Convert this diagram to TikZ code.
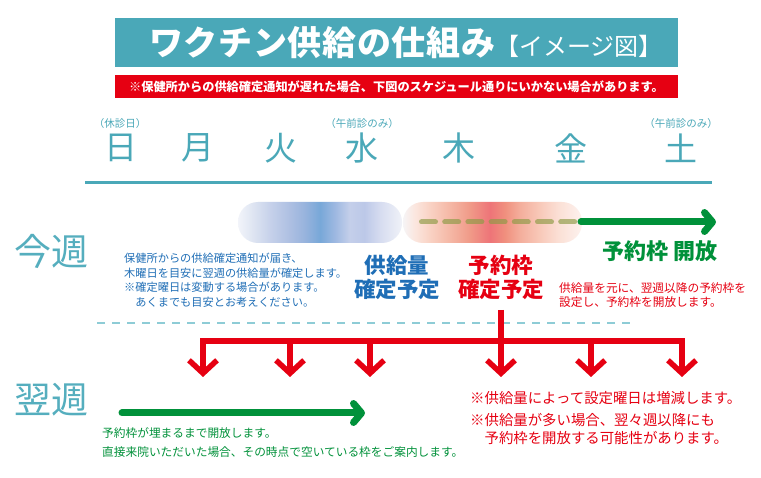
\documentclass[tikz,border=0pt]{standalone}
\usepackage{fontspec}
\setmainfont{Noto Sans CJK JP}
\usetikzlibrary{arrows.meta}
\definecolor{teal1}{HTML}{4AA8B8}
\definecolor{teal2}{HTML}{55AEBE}
\definecolor{lteal}{HTML}{8ECCD6}
\definecolor{jred}{HTML}{E60012}
\definecolor{jblue}{HTML}{1F6EB6}
\definecolor{jgreen}{HTML}{00913A}
\definecolor{olive}{HTML}{8C9A44}
% blue band colours
\definecolor{b0}{HTML}{F2F4FA}\definecolor{b1}{HTML}{DCE3F1}\definecolor{b2}{HTML}{C6D1EA}
\definecolor{b3}{HTML}{ADBFE2}\definecolor{b4}{HTML}{97B3DD}\definecolor{b5}{HTML}{78A8D8}
\definecolor{b6}{HTML}{9DB8E1}\definecolor{b7}{HTML}{C4CFEA}\definecolor{b8}{HTML}{BCC8E8}
\definecolor{b9}{HTML}{D6DCF0}\definecolor{b10}{HTML}{F0F2F8}
% red band colours
\definecolor{r0}{HTML}{F6F4F6}\definecolor{r1}{HTML}{FBE6DE}\definecolor{r2}{HTML}{F9D2C4}
\definecolor{r3}{HTML}{F5B8A6}\definecolor{r4}{HTML}{F09A88}\definecolor{r5}{HTML}{EE7478}
\definecolor{r6}{HTML}{F0907E}\definecolor{r7}{HTML}{F4AE9C}\definecolor{r8}{HTML}{F8C8B8}
\definecolor{r9}{HTML}{FBE0D6}\definecolor{r10}{HTML}{FDF2EE}
\pgfdeclarehorizontalshading{blueband}{100bp}{color(0bp)=(b0); color(25bp)=(b0); color(30bp)=(b1); color(34.8bp)=(b2); color(40.9bp)=(b3); color(45.5bp)=(b4); color(50bp)=(b5); color(54.5bp)=(b6); color(59bp)=(b7); color(63.5bp)=(b8); color(68.3bp)=(b9); color(75bp)=(b10); color(100bp)=(b10)}
\pgfdeclarehorizontalshading{redband}{100bp}{color(0bp)=(r0); color(25bp)=(r0); color(28.4bp)=(r1); color(32.5bp)=(r2); color(38bp)=(r3); color(43.7bp)=(r4); color(49.3bp)=(r5); color(53.5bp)=(r6); color(57.7bp)=(r7); color(63bp)=(r8); color(68.5bp)=(r9); color(75bp)=(r10); color(100bp)=(r10)}
\tikzset{
  dayname/.style={text=teal1, font=\fontsize{33}{33}\selectfont, inner sep=0pt},
  daynote/.style={text=teal1, font=\fontsize{10.5}{10.5}\selectfont, inner sep=0pt},
  weekname/.style={text=teal2, font=\fontsize{37}{37}\selectfont, inner sep=0pt},
  redline/.style={draw=jred, line width=5.5pt},
  redarrow/.style={redline, -{Straight Barb[length=13pt,width=28pt]}},
  greenarrow/.style={draw=jgreen, line width=7pt, line cap=round, -{Straight Barb[length=8pt,width=19pt,round]}},
  smalltext/.style={inner sep=0pt, align=left, anchor=west},
}
\begin{document}
\begin{tikzpicture}[x=1pt,y=-1pt]
\useasboundingbox (0,0) rectangle (761,478);
\fill[white] (0,0) rectangle (761,478);
% title
\node[fill=teal1, minimum width=563pt, minimum height=49pt, inner sep=0pt] (titlebox) at (396.5,42.5) {};
\node[anchor=west, inner sep=0pt, text=white] (titletext) at (149,42.5)
  {\fontsize{34}{34}\selectfont\bfseries\addfontfeature{LetterSpace=2}ワクチン供給の仕組み\fontsize{24}{24}\selectfont\mdseries\addfontfeature{LetterSpace=0}【イメージ図】};
\node[fill=jred, minimum width=563pt, minimum height=23pt, inner sep=0pt, text=white,
  font=\fontsize{12.2}{12.2}\selectfont\bfseries] (notebar) at (396.5,86.5)
  {※保健所からの供給確定通知が遅れた場合、下図のスケジュール通りにいかない場合があります。};
% days
\node[daynote] (n1) at (120,123.5) {（休診日）};
\node[daynote] (n2) at (362,123.5) {（午前診のみ）};
\node[daynote] (n3) at (681,123.5) {（午前診のみ）};
\node[dayname] (d1) at (121,148) {日};
\node[dayname] (d2) at (198,148) {月};
\node[dayname] (d3) at (281,148) {火};
\node[dayname] (d4) at (362,148) {水};
\node[dayname] (d5) at (459,148) {木};
\node[dayname] (d6) at (571,148) {金};
\node[dayname] (d7) at (681,148) {土};
\coordinate (tl1) at (85,183);
\coordinate (tl2) at (712,183);
\draw[teal1, line width=3pt] (tl1) -- (tl2);
% this week
\node[weekname] (thisweek) at (52,251) {今週};
\shade[shading=blueband, rounded corners=20pt] (238,202) rectangle (402,243);
\shade[shading=redband, rounded corners=20pt] (403,202) rectangle (582,243);
\coordinate (dash1) at (421.5,222);
\coordinate (dash2) at (576,222);
\draw[olive, opacity=0.65, line width=5pt, line cap=round, dash pattern=on 14pt off 9.2pt] (dash1) -- (dash2);
\coordinate (ga1) at (581,222);
\coordinate (ga2) at (716,222);
\draw[greenarrow] (ga1) -- (ga2);
\node[inner sep=0pt, text=jgreen, font=\fontsize{22}{22}\selectfont\bfseries] (open) at (660,251) {予約枠 開放};
\node[smalltext, text=jblue, font=\fontsize{11.2}{14.5}\selectfont] (bluetext) at (124,280)
  {保健所からの供給確定通知が届き、\\木曜日を目安に翌週の供給量が確定します。\\※確定曜日は変動する場合があります。\\　あくまでも目安とお考えください。};
\node[inner sep=0pt, align=center, text=jblue, font=\fontsize{21.5}{24}\selectfont\bfseries] (supply) at (397,277) {供給量\\確定予定};
\node[inner sep=0pt, align=center, text=jred, font=\fontsize{21.5}{24}\selectfont\bfseries] (slot) at (501,277) {予約枠\\確定予定};
\node[smalltext, text=jred, font=\fontsize{11.7}{14.5}\selectfont] (redtext1) at (559,295)
  {供給量を元に、翌週以降の予約枠を\\設定し、予約枠を開放します。};
% divider
\coordinate (dv1) at (97,323);
\coordinate (dv2) at (630,323);
\draw[lteal, line width=1.2pt, dash pattern=on 8pt off 7pt] (dv1) -- (dv2);
% red tree
\coordinate (rs) at (501,310);
\coordinate (h1) at (203,341);
\coordinate (h2) at (290,341);
\coordinate (h3) at (370,341);
\coordinate (h4) at (501,341);
\coordinate (h5) at (591,341);
\coordinate (h6) at (682,341);
\coordinate (t1) at (203,377);
\coordinate (t2) at (290,377);
\coordinate (t3) at (370,377);
\coordinate (t4) at (501,377);
\coordinate (t5) at (591,377);
\coordinate (t6) at (682,377);
\draw[redline] (rs) -- (h4);
\draw[redline, line cap=rect] (h1) -- (h6);
\foreach \i in {1,...,6} { \draw[redarrow] (h\i) -- (t\i); }
% next week
\node[weekname] (nextweek) at (52,400) {翌週};
\coordinate (gb1) at (122,413);
\coordinate (gb2) at (365,413);
\draw[greenarrow] (gb1) -- (gb2);
\node[smalltext, text=jgreen, font=\fontsize{11.7}{19}\selectfont] (greentext) at (102,442.5)
  {予約枠が埋まるまで開放します。\\直接来院いただいた場合、その時点で空いている枠をご案内します。};
\node[smalltext, text=jred, font=\fontsize{14.4}{14.4}\selectfont] (rednote1) at (470,398)
  {※供給量によって設定曜日は増減します。};
\node[smalltext, text=jred, font=\fontsize{14.4}{18}\selectfont] (rednote2) at (470,429)
  {※供給量が多い場合、翌々週以降にも\\　予約枠を開放する可能性があります。};
\end{tikzpicture}
\end{document}
